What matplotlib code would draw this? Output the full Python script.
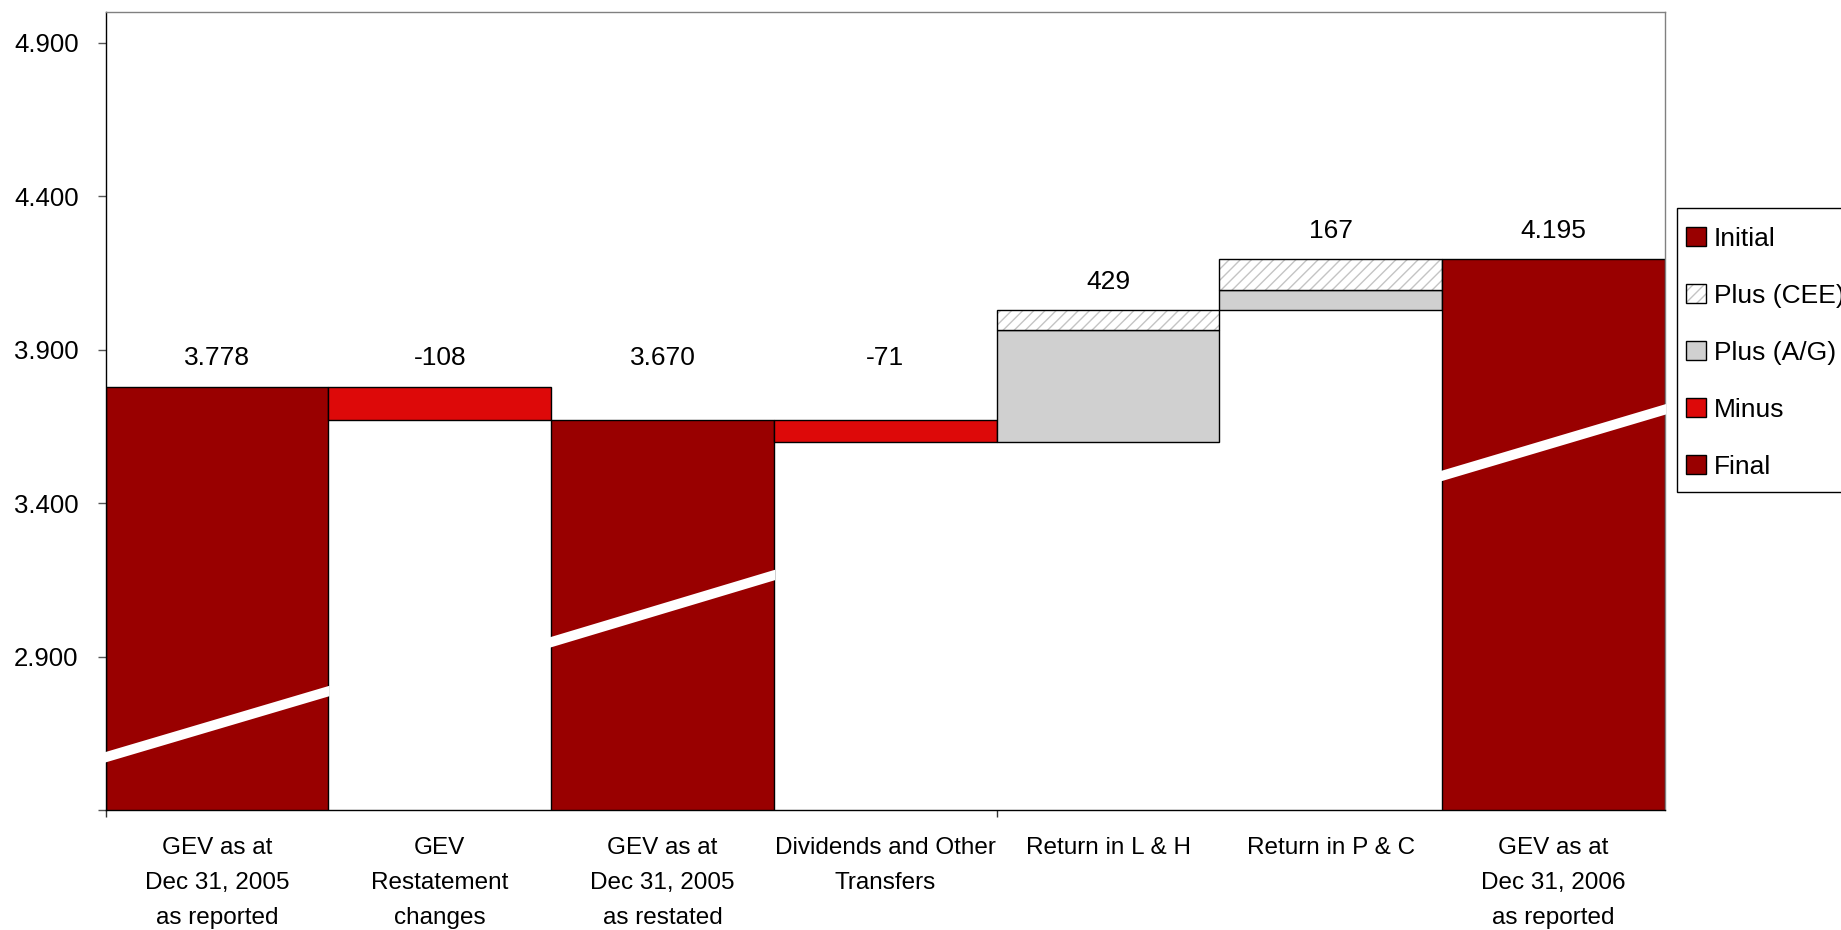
import matplotlib
matplotlib.use("Agg")
import matplotlib.pyplot as plt
from matplotlib.patches import Patch, Polygon, Rectangle
import numpy as np

plt.rcParams["font.family"] = ["Liberation Sans", "DejaVu Sans"]

categories = ["GEV as at\nDec 31, 2005\nas reported", "GEV\nRestatement\nchanges",
              "GEV as at\nDec 31, 2005\nas restated", "Dividends and Other\nTransfers",
              "Return in L & H", "Return in P & C",
              "GEV as at\nDec 31, 2006\nas reported"]
steps = [3778, -108, 3670, -71, 429, 167, 4195]
kinds = ["total", "minus", "total", "minus", "plus", "plus", "total"]
plus_ag = [0, 0, 0, 0, 366, 68, 0]
plus_cee = [0, 0, 0, 0, 63, 99, 0]
# white "axis break" stripes on the total bars (left / right end values)
break_left = [2570, None, 2945, None, None, None, 3487]
break_right = [2788, None, 3166, None, None, None, 3706]

DARK = "#990000"
RED = "#DD0909"
GREY = "#D0D0D0"
HATCH = "#C4C4C4"

W, H = 1841, 930
fig = plt.figure(figsize=(W / 100, H / 100), dpi=100)
ax = fig.add_axes([0.0574, 0.129, 0.8470, 0.858])

x = np.arange(len(steps))
level = 0
for i, v in enumerate(steps):
    k = kinds[i]
    if k == "total":
        ax.bar(i, v, width=1.0, color=DARK, edgecolor="black", linewidth=1.0, zorder=2)
        level = v
        top = v
    elif k == "minus":
        ax.bar(i, -v, bottom=level + v, width=1.0, color=RED, edgecolor="black",
               linewidth=1.0, zorder=2)
        top = level
        level = level + v
    else:
        ax.bar(i, plus_ag[i], bottom=level, width=1.0, color=GREY, edgecolor="black",
               linewidth=1.0, zorder=2)
        b2 = level + plus_ag[i]
        ax.bar(i, plus_cee[i], bottom=b2, width=1.0, color="white", edgecolor=HATCH,
               hatch="///", linewidth=0, zorder=2)
        ax.bar(i, plus_cee[i], bottom=b2, width=1.0, fill=False, edgecolor="black",
               linewidth=1.0, zorder=2)
        level = level + v
        top = level

    if k == "total":
        lbl = f"{v:,}".replace(",", ".")
    else:
        lbl = f"{v}"
    ax.text(i, max(top, 3780) + 92, lbl, ha="center", va="center", fontsize=19)

# break stripes
h = 17
for i in range(len(steps)):
    if break_left[i] is None:
        continue
    x0, x1 = i - 0.5, i + 0.5
    y0, y1 = break_left[i], break_right[i]
    poly = Polygon([(x0 - 0.01, y0 - h), (x1 + 0.005, y1 - h), (x1 + 0.005, y1 + h), (x0 - 0.01, y0 + h)],
                   closed=True, facecolor="white", edgecolor="none", zorder=3,
                   clip_on=False)
    ax.add_patch(poly)

ax.set_xlim(-0.5, len(steps) - 0.5)
ax.set_ylim(2400, 5000)

yt = np.arange(2400, 5000, 500)
ax.set_yticks(yt)
ax.set_yticklabels(["" if t == 2400 else f"{t:,}".replace(",", ".") for t in yt], fontsize=18.5)
ax.tick_params(axis="y", direction="out", length=5.5, width=1, color="#555555", pad=14)

ax.set_xticks(x)
ax.set_xticklabels(categories, fontsize=17.5, linespacing=1.75)
ax.tick_params(axis="x", which="major", length=0, pad=19.5)
ax.set_xticks([-0.5, 3.5], minor=True)
ax.tick_params(axis="x", which="minor", direction="out", length=5, width=1, color="#333333")

for s in ["left", "bottom"]:
    ax.spines[s].set_color("black")
    ax.spines[s].set_linewidth(1.0)
for s in ["top", "right"]:
    ax.spines[s].set_color("#808080")
    ax.spines[s].set_linewidth(1.0)

# legend frame drawn by hand, it runs off the right edge of the figure
fig.patches.append(Rectangle((1677 / W, 1 - 492 / H), 200 / W, 284 / H,
                             transform=fig.transFigure, facecolor="white",
                             edgecolor="black", linewidth=1.0, zorder=1))

cee_handle = (Patch(facecolor="white", edgecolor=HATCH, hatch="///", linewidth=0),
              Patch(fill=False, edgecolor="black", linewidth=1.0))
handles = [Patch(facecolor=DARK, edgecolor="black"), cee_handle,
           Patch(facecolor=GREY, edgecolor="black"), Patch(facecolor=RED, edgecolor="black"),
           Patch(facecolor=DARK, edgecolor="black")]
labels = ["Initial", "Plus (CEE)", "Plus (A/G)", "Minus", "Final"]
leg = fig.legend(handles, labels, loc="upper left",
                 bbox_to_anchor=(1686 / W, 1 - 227 / H),
                 fontsize=19, frameon=False, handlelength=0.76, handleheight=0.75,
                 handletextpad=0.3, labelspacing=1.25, borderpad=0,
                 borderaxespad=0)
leg.set_zorder(5)

fig.savefig("out.png", dpi=100)
